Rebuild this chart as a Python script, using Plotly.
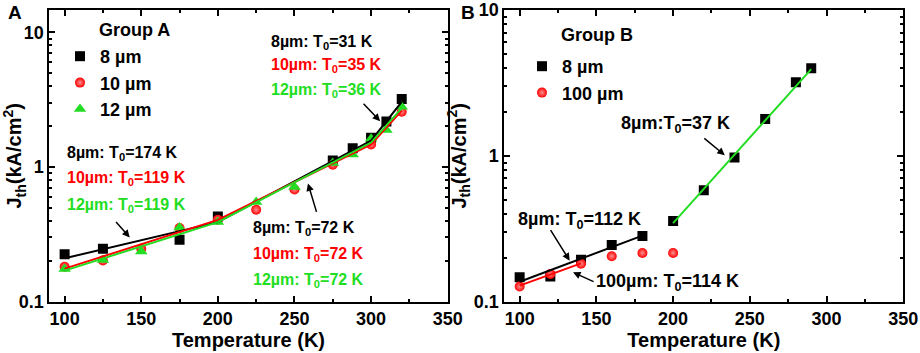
import math
import plotly.graph_objects as go

# ---------------- data ----------------
# Panel A (Group A)
T_8A = [100, 125, 175, 200, 275, 288, 300, 310, 320]
J_8A = [0.225, 0.247, 0.288, 0.43, 1.12, 1.38, 1.65, 2.18, 3.2]
T_10A = [100, 125, 150, 175, 200, 225, 250, 275, 300, 320]
J_10A = [0.182, 0.202, 0.247, 0.352, 0.406, 0.482, 0.68, 1.04, 1.47, 2.57]
T_12A = [100, 125, 150, 175, 200, 225, 250, 275, 288, 300, 310, 320]
J_12A = [0.175, 0.204, 0.236, 0.355, 0.39, 0.549, 0.71, 1.07, 1.24, 1.62, 1.88, 2.8]

T_fitA = [100, 200, 300, 320]
J_fit8A = [0.21, 0.39, 1.57, 3.05]
J_fit10A = [0.176, 0.405, 1.47, 2.62]
J_fit12A = [0.17, 0.39, 1.52, 2.74]

# Panel B (Group B)
T_8B = [100, 120, 140, 160, 180, 200, 220, 240, 260, 280, 290]
J_8B = [0.147, 0.149, 0.194, 0.245, 0.282, 0.357, 0.581, 0.975, 1.79, 3.2, 3.99]
T_100B = [100, 120, 140, 160, 180, 200]
J_100B = [0.127, 0.155, 0.182, 0.205, 0.216, 0.216]

T_fit8B_low = [100, 180]
J_fit8B_low = [0.137, 0.284]
T_fit100B = [100, 140]
J_fit100B = [0.129, 0.183]
T_fit8B_high = [200, 290]
J_fit8B_high = [0.346, 3.93]

x_ticks = [100, 150, 200, 250, 300, 350]
x_minor = [125, 175, 225, 275, 325]
y_ticks = [0.1, 1, 10]
y_ticktext = ["0.1", "1", "10"]
y_minor = [0.2, 0.3, 0.4, 0.5, 0.6, 0.7, 0.8, 0.9, 2, 3, 4, 5, 6, 7, 8, 9]

RED = "#ff0000"
GREEN = "#22dd22"
BLACK = "#000000"
FONT = "Liberation Sans, Arial, sans-serif"

W, H = 920, 353


def px(x):
    return x / W


def py(y):
    return 1 - y / H


fig = go.Figure()

# ---- Panel A markers ----
fig.add_trace(go.Scatter(x=T_8A, y=J_8A, mode="markers", name="8 µm",
                         marker=dict(symbol="square", size=10, color=BLACK),
                         xaxis="x", yaxis="y", legend="legend"))
fig.add_trace(go.Scatter(x=T_10A, y=J_10A, mode="markers", name="10 µm",
                         marker=dict(symbol="circle", size=10, color=RED,
                                     gradient=dict(type="radial", color="#ff9090")),
                         xaxis="x", yaxis="y", legend="legend"))
fig.add_trace(go.Scatter(x=T_12A, y=J_12A, mode="markers", name="12 µm",
                         marker=dict(symbol="triangle-up", size=11, color=GREEN),
                         xaxis="x", yaxis="y", legend="legend"))
# ---- Panel A fits ----
for yy, c in [(J_fit8A, BLACK), (J_fit10A, RED), (J_fit12A, GREEN)]:
    fig.add_trace(go.Scatter(x=T_fitA, y=yy, mode="lines", line=dict(color=c, width=2),
                             showlegend=False, xaxis="x", yaxis="y"))

# ---- Panel B markers ----
fig.add_trace(go.Scatter(x=T_8B, y=J_8B, mode="markers", name="8 µm",
                         marker=dict(symbol="square", size=10, color=BLACK),
                         xaxis="x2", yaxis="y2", legend="legend2"))
fig.add_trace(go.Scatter(x=T_100B, y=J_100B, mode="markers", name="100 µm",
                         marker=dict(symbol="circle", size=10, color=RED,
                                     gradient=dict(type="radial", color="#ff9090")),
                         xaxis="x2", yaxis="y2", legend="legend2"))
# ---- Panel B fits ----
fig.add_trace(go.Scatter(x=T_fit8B_low, y=J_fit8B_low, mode="lines",
                         line=dict(color=BLACK, width=2), showlegend=False,
                         xaxis="x2", yaxis="y2"))
fig.add_trace(go.Scatter(x=T_fit100B, y=J_fit100B, mode="lines",
                         line=dict(color=RED, width=2), showlegend=False,
                         xaxis="x2", yaxis="y2"))
fig.add_trace(go.Scatter(x=T_fit8B_high, y=J_fit8B_high, mode="lines",
                         line=dict(color=GREEN, width=2), showlegend=False,
                         xaxis="x2", yaxis="y2"))

tickfont = dict(family=FONT, size=18, color=BLACK, weight="bold")
titlefont = dict(family=FONT, size=20, color=BLACK, weight="bold")


def xaxis_cfg(domain, anchor):
    return dict(domain=domain, anchor=anchor, range=[90, 350], tickvals=x_ticks,
                ticks="inside", ticklen=6, tickwidth=1.5, tickcolor=BLACK,
                showline=True, linewidth=2, linecolor=BLACK, mirror="allticks",
                showgrid=False, zeroline=False, tickfont=tickfont, automargin=False,
                minor=dict(tickvals=x_minor, ticks="inside",
                           ticklen=3, tickwidth=1.5, tickcolor=BLACK, showgrid=False),
                title=dict(text="Temperature (K)", font=titlefont, standoff=2))


def yaxis_cfg(domain, anchor, rng):
    return dict(domain=domain, anchor=anchor, type="log", range=rng,
                tickvals=y_ticks, ticktext=y_ticktext,
                ticks="inside", ticklen=6, tickwidth=1.5, tickcolor=BLACK,
                showline=True, linewidth=2, linecolor=BLACK, mirror="allticks",
                showgrid=False, zeroline=False, tickfont=tickfont, automargin=False,
                minor=dict(tickvals=y_minor, ticks="inside", ticklen=3,
                           tickwidth=1.5, tickcolor=BLACK, showgrid=False),
                title=dict(text="J<sub>th</sub>(kA/cm<sup>2</sup>)", font=titlefont,
                           standoff=2))


ydom = [py(301.7), py(10)]
legfont = dict(family=FONT, size=18, color=BLACK, weight="bold")
fig.update_layout(
    width=W, height=H, margin=dict(l=0, r=0, t=0, b=0, autoexpand=False),
    paper_bgcolor="white", plot_bgcolor="white",
    font=dict(family=FONT, color=BLACK),
    xaxis=xaxis_cfg([px(49.3), px(447.7)], "y"),
    yaxis=yaxis_cfg(ydom, "x", [-1, 1.166]),
    xaxis2=xaxis_cfg([px(504.3), px(903.3)], "y2"),
    yaxis2=yaxis_cfg(ydom, "x2", [-1, 1.0]),
    legend=dict(x=px(60), y=py(38), xanchor="left", yanchor="top",
                bgcolor="rgba(0,0,0,0)", font=legfont, itemwidth=30),
    legend2=dict(x=px(522), y=py(48), xanchor="left", yanchor="top",
                 bgcolor="rgba(0,0,0,0)", font=legfont, itemwidth=30),
)

# ---- text annotations ----
texts = [
    ("A", 6, 13, BLACK, 19),
    ("Group A", 97, 30, BLACK, 18),
    ("8µm: T<sub>0</sub>=31 K", 269, 42, BLACK, 16),
    ("10µm: T<sub>0</sub>=35 K", 269, 66, RED, 16),
    ("12µm: T<sub>0</sub>=36 K", 269, 90, GREEN, 16),
    ("8µm: T<sub>0</sub>=174 K", 65, 153, BLACK, 16),
    ("10µm: T<sub>0</sub>=119 K", 65, 179, RED, 16),
    ("12µm: T<sub>0</sub>=119 K", 65, 205, GREEN, 16),
    ("8µm: T<sub>0</sub>=72 K", 251, 228, BLACK, 16),
    ("10µm: T<sub>0</sub>=72 K", 251, 254, RED, 16),
    ("12µm: T<sub>0</sub>=72 K", 251, 280, GREEN, 16),
    ("B", 459, 13, BLACK, 19),
    ("Group B", 559, 35, BLACK, 18),
    ("8µm:T<sub>0</sub>=37 K", 619, 125, BLACK, 18),
    ("8µm: T<sub>0</sub>=112 K", 516, 220, BLACK, 18),
    ("100µm: T<sub>0</sub>=114 K", 594, 282, BLACK, 18),
]
for t, x, y, c, s in texts:
    fig.add_annotation(text=t, x=px(x), y=py(y), xref="paper", yref="paper",
                       xanchor="left", yanchor="middle", showarrow=False,
                       font=dict(family=FONT, size=s, color=c, weight="bold"))

# ---- arrows (head in data coords, tail offset in px) ----
arrows = [
    ("x", "y", 305.9, 2.19, -18, -19),
    ("x", "y", 142.5, 0.30, -15, -17),
    ("x", "y", 258.8, 0.756, 9, 30),
    ("x2", "y2", 233.7, 1.01, -22, -18),
    ("x2", "y2", 132.6, 0.191, -20, -32),
    ("x2", "y2", 134.8, 0.159, 22, 10),
]
for xr, yr, x, y, ax, ay in arrows:
    fig.add_annotation(x=x, y=math.log10(y), xref=xr, yref=yr, ax=ax, ay=ay,
                       text="", showarrow=True, arrowhead=2, arrowsize=1,
                       arrowwidth=1.5, arrowcolor=BLACK)

fig.write_html("out.html", config={"displayModeBar": False},
               post_script="document.body.style.margin='0px';document.body.style.overflow='hidden';")
